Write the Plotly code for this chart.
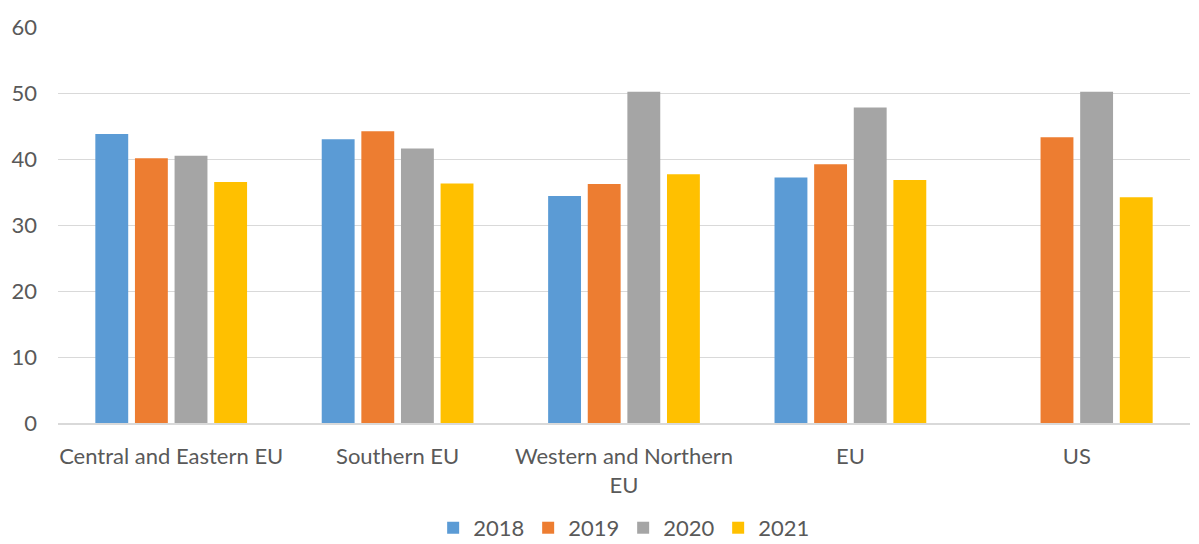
import plotly.graph_objects as go

regions = ["Central and Eastern EU", "Southern EU", "Western and Northern<br>EU", "EU", "US"]
years = ["2018", "2019", "2020", "2021"]

v2018 = [43.8, 43.0, 34.4, 37.2, None]
v2019 = [40.1, 44.2, 36.2, 39.2, 43.3]
v2020 = [40.5, 41.6, 50.2, 47.8, 50.2]
v2021 = [36.5, 36.3, 37.7, 36.8, 34.2]

colors = ["#5b9bd5", "#ed7d31", "#a5a5a5", "#ffc000"]

fig = go.Figure()
for name, vals, c in zip(years, [v2018, v2019, v2020, v2021], colors):
    fig.add_trace(go.Bar(x=regions, y=vals, name=name, marker_color=c,
                         marker_line_width=0))

# page body has an 8px margin, so the figure is a bit smaller than the window
fig.update_layout(
    width=1183, height=536,
    barmode="group", bargap=0.30, bargroupgap=0.17,
    plot_bgcolor="white", paper_bgcolor="white",
    margin=dict(l=50, r=1, t=19, b=121),
    font=dict(family="Lato, Open Sans, sans-serif", size=22, color="#595959"),
    legend=dict(orientation="h", x=0.52, xanchor="center", xref="container",
                y=0.03, yanchor="middle", yref="container",
                font=dict(size=22), itemwidth=30, entrywidth=50,
                traceorder="normal"),
    xaxis=dict(showgrid=False, linecolor="#d9d9d9", linewidth=1.5, ticks="",
               automargin=False, ticklabelstandoff=13),
    yaxis=dict(range=[0, 60], dtick=10, gridcolor="#d9d9d9", gridwidth=1.3,
               zeroline=False, ticks="", ticklabelstandoff=20, automargin=False),
)

fig.write_html("out.html")
